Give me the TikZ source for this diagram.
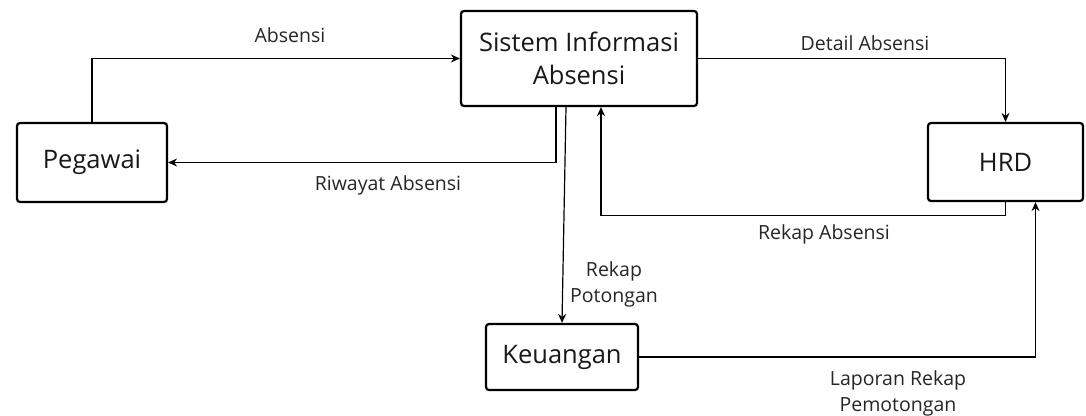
\documentclass[tikz,border=0pt]{standalone}
\usepackage{fontspec}
\setmainfont{Open Sans}
\usetikzlibrary{arrows.meta}
\begin{document}
\begin{tikzpicture}[x=1pt,y=-1pt,
  entity/.style={draw, line width=2.2pt, rounded corners=3pt, fill=white,
    align=center, font=\fontsize{25.5}{33}\selectfont, text=black!90, inner sep=0pt},
  flow/.style={line width=1.2pt, -{Stealth[length=9pt,width=8pt]}},
  lbl/.style={font=\fontsize{19.5}{26}\selectfont, text=black!85, align=center, inner sep=0pt}]
  \useasboundingbox (0,0) rectangle (1086,415);

  % entities
  \node[entity, minimum width=150pt, minimum height=79pt] (peg) at (92,162.5) {Pegawai};
  \node[entity, minimum width=236pt, minimum height=95pt] (sia) at (579,58.5) {Sistem Informasi\\Absensi};
  \node[entity, minimum width=155pt, minimum height=78pt] (hrd) at (1005.5,162) {HRD};
  \node[entity, minimum width=152pt, minimum height=66pt] (keu) at (562,357) {Keuangan};

  % data flows
  \draw[flow] (peg.north) |- (sia.west);
  \draw[flow] ([xshift=-23pt]sia.south) |- (peg.east);
  \draw[flow] ([xshift=-13pt]sia.south) -- (keu.north);
  \draw[flow] (sia.east) -| (hrd.north);
  \draw[flow] (hrd.south) -- ++(0,13) -| ([xshift=22pt]sia.south);
  \draw[flow] (keu.east) -| ([xshift=30pt]hrd.south);

  % flow labels
  \node[lbl] (l1) at (290,35) {Absensi};
  \node[lbl] (l2) at (388,185) {Riwayat Absensi};
  \node[lbl] (l3) at (865,43) {Detail Absensi};
  \node[lbl] (l4) at (824,234) {Rekap Absensi};
  \node[lbl] (l5) at (614,284) {Rekap\\Potongan};
  \node[lbl] (l6) at (898,393) {Laporan Rekap\\Pemotongan};
\end{tikzpicture}
\end{document}
